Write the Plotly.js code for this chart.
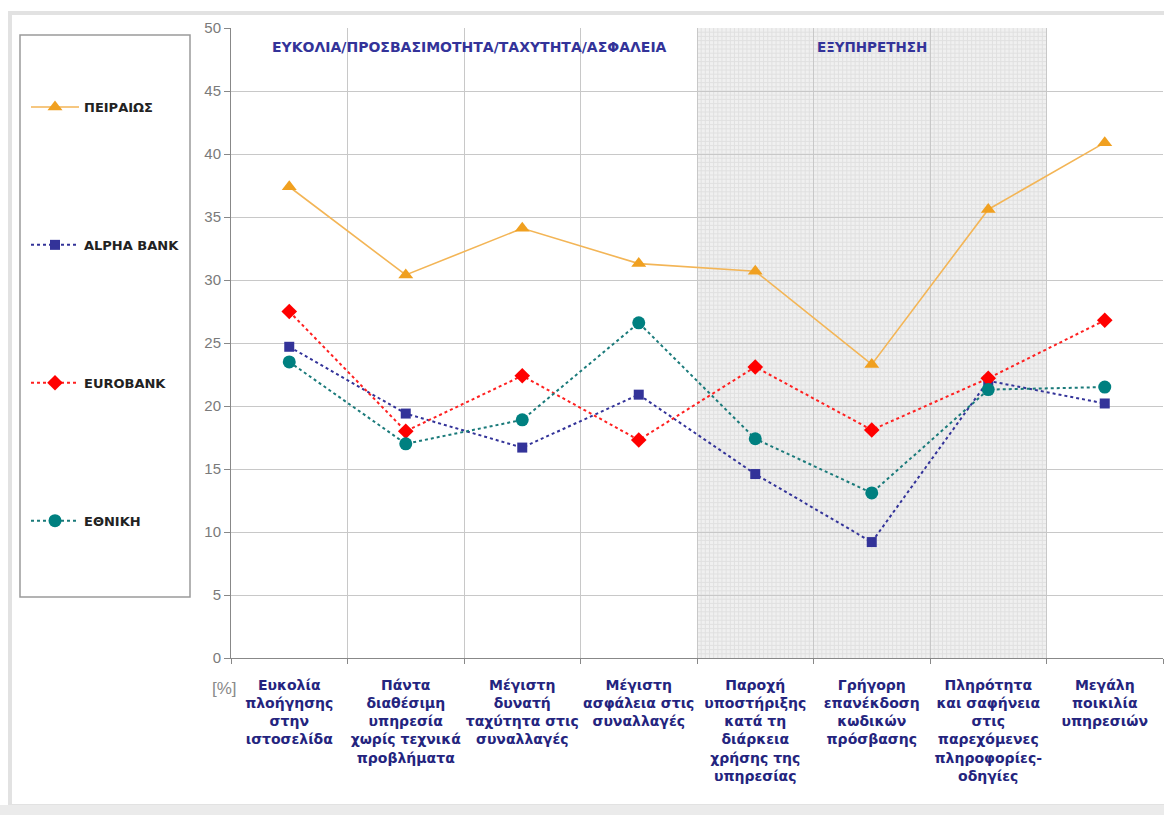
<!DOCTYPE html>
<html>
<head>
<meta charset="utf-8">
<script src="https://cdn.plot.ly/plotly-3.0.1.min.js"></script>
<style>html,body{margin:0;padding:0;background:#fff;}#chart{width:1164px;height:815px;}</style>
</head>
<body>
<div id="chart"></div>
<script>
const categories = [
  "Ευκολία<br>πλοήγησης<br>στην<br>ιστοσελίδα",
  "Πάντα<br>διαθέσιμη<br>υπηρεσία<br>χωρίς τεχνικά<br>προβλήματα",
  "Μέγιστη<br>δυνατή<br>ταχύτητα στις<br>συναλλαγές",
  "Μέγιστη<br>ασφάλεια στις<br>συναλλαγές",
  "Παροχή<br>υποστήριξης<br>κατά τη<br>διάρκεια<br>χρήσης της<br>υπηρεσίας",
  "Γρήγορη<br>επανέκδοση<br>κωδικών<br>πρόσβασης",
  "Πληρότητα<br>και σαφήνεια<br>στις<br>παρεχόμενες<br>πληροφορίες-<br>οδηγίες",
  "Μεγάλη<br>ποικιλία<br>υπηρεσιών"
];
const seriesNames = ["ΠΕΙΡΑΙΩΣ", "ALPHA BANK", "EUROBANK", "ΕΘΝΙΚΗ"];
const peiraios = [37.4, 30.4, 34.1, 31.3, 30.7, 23.3, 35.6, 40.9];
const alphaBank = [24.7, 19.4, 16.7, 20.9, 14.6, 9.2, 22.0, 20.2];
const eurobank = [27.5, 18.0, 22.4, 17.3, 23.1, 18.1, 22.2, 26.8];
const ethniki = [23.5, 17.0, 18.9, 26.6, 17.4, 13.1, 21.3, 21.5];
const groupLabels = ["ΕΥΚΟΛΙΑ/ΠΡΟΣΒΑΣΙΜΟΤΗΤΑ/ΤΑΧΥΤΗΤΑ/ΑΣΦΑΛΕΙΑ", "ΕΞΥΠΗΡΕΤΗΣΗ"];
const yTicks = [0, 5, 10, 15, 20, 25, 30, 35, 40, 45, 50];

const L = 231, R = 1163, T = 28, B = 658;
const W = R - L, H = B - T;
const px = x => (x - L) / W;
const py = y => (B - y) / H;
const BOLD = "DejaVu Sans, Verdana, sans-serif";
const NARROW = "Liberation Sans Narrow, Liberation Sans, Arial, sans-serif";

function tr(name, y, color, lineColor, dash, width, symbol, size, group) {
  return {
    type: "scatter", mode: "lines+markers", name: name, x: categories, y: y,
    line: {color: lineColor, dash: dash, width: width},
    marker: {color: color, symbol: symbol, size: size},
    legendgroup: group, hoverinfo: "skip", cliponaxis: false
  };
}

const data = [
  tr(seriesNames[0], peiraios, "#F0A020", "#F3B556", "solid", 1.6, "triangle-up", 13, "g1"),
  tr(seriesNames[1], alphaBank, "#333399", "#333399", "dot", 2, "square", 10, "g2"),
  tr(seriesNames[2], eurobank, "#FF0000", "#FF2020", "dot", 2, "diamond", 12, "g3"),
  tr(seriesNames[3], ethniki, "#008080", "#1A7A7A", "dot", 2, "circle", 13, "g4")
];

// shaded "service" band with fine grid texture
const shapes = [
  {type: "rect", xref: "x", yref: "y", x0: 3.5, x1: 6.5, y0: 0, y1: 50,
   fillcolor: "#F0F0F0", line: {width: 0}, layer: "below"}
];
const fineX = 28, fineY = 3;
for (let i = 1; i < 3 * fineX; i++) {
  const xv = 3.5 + i / fineX;
  shapes.push({type: "line", xref: "x", yref: "y", x0: xv, x1: xv, y0: 0, y1: 50,
    line: {color: "#E0E0E0", width: 1}, layer: "below"});
}
for (let j = 1; j < 50 * fineY; j++) {
  const yv = j / fineY;
  shapes.push({type: "line", xref: "x", yref: "y", x0: 3.5, x1: 6.5, y0: yv, y1: yv,
    line: {color: "#E0E0E0", width: 1}, layer: "below"});
}
shapes.push(
  {type: "rect", xref: "paper", yref: "paper", x0: px(10), x1: px(1172), y0: py(806), y1: py(13),
   fillcolor: "rgba(0,0,0,0)", line: {color: "#E2E2E2", width: 4}, layer: "below"},
  {type: "rect", xref: "paper", yref: "paper", x0: px(0), x1: px(1172), y0: py(816), y1: py(805),
   fillcolor: "#EBEBEB", line: {width: 0}, layer: "below"},
  {type: "rect", xref: "paper", yref: "paper", x0: px(20), x1: px(190), y0: py(597), y1: py(35),
   fillcolor: "rgba(0,0,0,0)", line: {color: "#9A9A9A", width: 1.5}, layer: "above"}
);

const layout = {
  width: 1164, height: 815,
  margin: {l: L, r: 1164 - R, t: T, b: 815 - B},
  paper_bgcolor: "#FFFFFF", plot_bgcolor: "#FFFFFF",
  font: {family: "Liberation Sans, Arial, sans-serif"},
  showlegend: true,
  legend: {
    x: px(26), y: py(92), xanchor: "left", yanchor: "top",
    traceorder: "grouped", tracegroupgap: 118, itemwidth: 48,
    bgcolor: "rgba(0,0,0,0)", borderwidth: 0,
    font: {size: 13, color: "#222", weight: "bold", family: BOLD}
  },
  xaxis: {
    type: "category", range: [-0.5, 7.5], tickson: "boundaries",
    showgrid: true, gridcolor: "#C8C8C8", gridwidth: 1,
    ticks: "outside", ticklen: 5, tickcolor: "#888",
    showline: true, linecolor: "#888", linewidth: 1,
    ticklabelstandoff: 14,
    tickfont: {size: 14, color: "#24247E", weight: "bold", family: BOLD},
    tickangle: 0, fixedrange: true
  },
  yaxis: {
    range: [0, 50], tickvals: yTicks, ticktext: yTicks.map(String),
    showgrid: true, gridcolor: "#C8C8C8", gridwidth: 1, zeroline: false,
    ticks: "outside", ticklen: 6, tickcolor: "#888",
    showline: true, linecolor: "#888", linewidth: 1,
    tickfont: {size: 15, color: "#7A7A7A", family: NARROW},
    fixedrange: true
  },
  shapes: shapes,
  annotations: [
    {xref: "x", yref: "paper", x: 1.55, y: py(47), xanchor: "center", yanchor: "middle",
     text: groupLabels[0], showarrow: false,
     font: {size: 14, color: "#333399", weight: "bold", family: BOLD}},
    {xref: "x", yref: "paper", x: 5, y: py(47), xanchor: "center", yanchor: "middle",
     text: groupLabels[1], showarrow: false,
     font: {size: 13.5, color: "#333399", weight: "bold", family: BOLD}},
    {xref: "paper", yref: "paper", x: px(224), y: py(688), xanchor: "center", yanchor: "middle",
     text: "[%]", showarrow: false,
     font: {size: 17, color: "#8A8A8A", family: NARROW}}
  ]
};

Plotly.newPlot("chart", data, layout, {displayModeBar: false, staticPlot: true});
</script>
</body>
</html>
